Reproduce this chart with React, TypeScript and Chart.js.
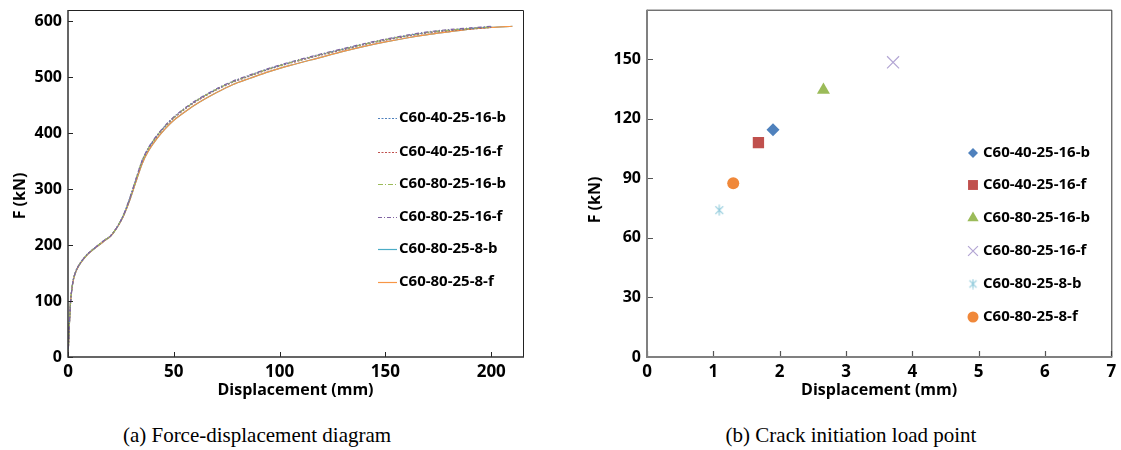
import React, { useEffect, useRef } from 'react';
import { Chart, registerables } from 'chart.js';
import { drawPoint } from 'chart.js/helpers';

Chart.register(...registerables);

// ---------- (a) Force-displacement data ----------
const seriesNames = [
  'C60-40-25-16-b',
  'C60-40-25-16-f',
  'C60-80-25-16-b',
  'C60-80-25-16-f',
  'C60-80-25-8-b',
  'C60-80-25-8-f',
];

const dispGroup16 = [0, 0.4, 1, 1.5, 2.5, 4, 6, 9, 12, 15, 17, 20, 23, 26, 29, 32, 35, 38, 42, 46, 50, 56, 62, 70, 78, 86, 95, 105, 119, 130, 140, 150, 160, 170, 180, 190, 200];
const forceB40 = [0, 36, 86, 111, 138, 156, 169, 183, 193, 202, 208, 216, 231, 252, 281, 316, 350, 373, 395, 413, 428, 446, 461, 478, 492, 503, 515, 526, 540, 550, 559, 567, 574, 580, 584, 587, 590];
const forceF40 = [0, 36, 86, 111, 138, 156, 169, 183, 193, 202, 208, 216, 231, 251, 280, 315, 349, 372, 394, 412, 427, 445, 460, 477, 491, 502, 514, 525, 539, 549, 558, 566, 573, 579, 583, 586, 589];
const forceB80 = [0, 36, 86, 111, 138, 156, 169, 183, 193, 202, 208, 216, 231, 252, 281, 316, 350, 373, 395, 413, 428, 446, 461, 478, 492, 503, 515, 526, 540, 550, 559, 567, 574, 580, 584, 587, 590];
const forceF80 = [0, 36, 86, 111, 138, 156, 169, 183, 193, 202, 208, 216, 231, 252, 282, 317, 351, 374, 396, 414, 429, 447, 462, 479, 493, 504, 516, 527, 541, 551, 560, 568, 575, 581, 585, 588, 591];

const dispGroup8 = [0, 0.4, 1, 1.5, 2.5, 4, 6, 9, 12, 15, 17, 20, 23, 26, 29, 32, 35, 38, 42, 46, 50, 56, 62, 70, 78, 86, 95, 105, 119, 130, 140, 150, 160, 170, 180, 190, 200, 210];
const forceB8 = [0, 36, 85, 110, 137, 155, 168, 182, 192, 201, 207, 215, 230, 250, 278, 312, 345, 368, 390, 408, 423, 440, 455, 472, 487, 498, 510, 521, 535, 546, 555, 563, 570, 576, 581, 586, 589, 591];
const forceF8 = [0, 36, 85, 110, 137, 155, 168, 182, 192, 201, 207, 215, 230, 250, 278, 312, 345, 368, 390, 408, 423, 440, 455, 472, 487, 498, 510, 521, 535, 546, 555, 563, 570, 576, 581, 586, 589, 591];

const forceXTicks = [0, 50, 100, 150, 200];
const forceYTicks = [0, 100, 200, 300, 400, 500, 600];

// ---------- (b) Crack initiation data ----------
const crackDisp = [1.9, 1.68, 2.66, 3.71, 1.09, 1.3];
const crackLoad = [114.5, 108, 134.5, 148.5, 74, 87.5];
const crackXTicks = [0, 1, 2, 3, 4, 5, 6, 7];
const crackYTicks = [0, 30, 60, 90, 120, 150];

const FONT = "'Open Sans', 'DejaVu Sans', sans-serif";

function makeAsterisk(size: number, color: string) {
  const c = document.createElement('canvas');
  c.width = size;
  c.height = size;
  const g = c.getContext('2d')!;
  g.strokeStyle = color;
  g.lineWidth = 1.1;
  const cx = size / 2;
  const cy = size / 2;
  const r = size / 2 - 0.5;
  g.beginPath();
  for (const deg of [90, 45, 135]) {
    const a = (deg * Math.PI) / 180;
    g.moveTo(cx - r * Math.cos(a), cy - r * Math.sin(a));
    g.lineTo(cx + r * Math.cos(a), cy + r * Math.sin(a));
  }
  g.stroke();
  return c;
}

const decorPlugin = {
  id: 'decor',
  afterDraw(chart: any) {
    const o = chart.options.plugins.decor;
    if (!o) return;
    const { ctx, chartArea: a } = chart;
    const xs = chart.scales.x;
    const ys = chart.scales.y;
    ctx.save();
    // inward tick marks
    ctx.strokeStyle = o.tickColor;
    ctx.lineWidth = o.tickWidth;
    ctx.beginPath();
    xs.ticks.forEach((t: any) => {
      const p = Math.round(xs.getPixelForValue(t.value)) + 0.5;
      ctx.moveTo(p, a.bottom);
      ctx.lineTo(p, a.bottom - o.tickLen);
    });
    ys.ticks.forEach((t: any) => {
      const p = Math.round(ys.getPixelForValue(t.value)) + 0.5;
      ctx.moveTo(a.left, p);
      ctx.lineTo(a.left + o.tickLen, p);
    });
    ctx.stroke();
    // frame top/right
    ctx.strokeStyle = o.frameColor;
    ctx.lineWidth = o.frameWidth;
    ctx.beginPath();
    ctx.moveTo(a.left, a.top + 0.5);
    ctx.lineTo(a.right + 0.5, a.top + 0.5);
    ctx.lineTo(a.right + 0.5, a.bottom);
    ctx.stroke();
    // axes left/bottom
    ctx.strokeStyle = o.axisColor;
    ctx.lineWidth = o.axisWidth;
    ctx.beginPath();
    ctx.moveTo(a.left, a.top);
    ctx.lineTo(a.left, a.bottom);
    ctx.lineTo(a.right + 1, a.bottom);
    ctx.stroke();
    // axis titles
    ctx.fillStyle = '#000';
    ctx.font = o.titleFont;
    ctx.textAlign = 'center';
    ctx.textBaseline = 'middle';
    ctx.fillText(o.xTitle, (a.left + a.right) / 2, o.xTitleY);
    ctx.save();
    ctx.translate(o.yTitleX, o.yTitleY);
    ctx.rotate(-Math.PI / 2);
    ctx.fillText(o.yTitle, 0, 0);
    ctx.restore();
    // legend
    chart.data.datasets.forEach((ds: any, i: number) => {
      const y = o.legendY[i];
      if (o.legendType === 'line') {
        ctx.strokeStyle = ds.borderColor;
        ctx.lineWidth = ds.borderWidth;
        ctx.setLineDash(ds.borderDash || []);
        ctx.beginPath();
        ctx.moveTo(o.legendLineX[0], y + 0.5);
        ctx.lineTo(o.legendLineX[1], y + 0.5);
        ctx.stroke();
        ctx.setLineDash([]);
      } else {
        ctx.fillStyle = ds.backgroundColor;
        ctx.strokeStyle = ds.borderColor;
        ctx.lineWidth = ds.pointBorderWidth;
        drawPoint(
          ctx,
          { pointStyle: o.legendStyles ? o.legendStyles[i] : ds.pointStyle, radius: o.legendRadius[i], rotation: 0, borderWidth: ds.pointBorderWidth },
          o.legendMarkerX,
          y
        );
      }
      ctx.fillStyle = '#000';
      ctx.font = o.legendFont;
      ctx.textAlign = 'left';
      ctx.textBaseline = 'middle';
      ctx.fillText(ds.label, o.legendTextX, y);
    });
    ctx.restore();
  },
};

function tickFont(size: number) {
  return { family: FONT, size, weight: 'bold' as const };
}

function fitX(h: number) {
  return (s: any) => {
    s.height = h;
    s.paddingLeft = 0;
    s.paddingRight = 0;
  };
}
function fitY(w: number) {
  return (s: any) => {
    s.width = w;
    s.paddingTop = 0;
    s.paddingBottom = 0;
  };
}

function ForceChart() {
  const ref = useRef<HTMLCanvasElement | null>(null);
  useEffect(() => {
    if (!ref.current) return;
    const mk = (xs: number[], ys: number[]) => xs.map((x, i) => ({ x, y: ys[i] }));
    const colors = ['#4F81BD', '#C0504D', '#9BBB59', '#8064A2', '#4BACC6', '#F79646'];
    const dashes = [[2, 1.5], [2, 1.5], [5, 2, 1, 2], [4, 2, 1, 2], [], []];
    const dataSets = [
      mk(dispGroup16, forceB40),
      mk(dispGroup16, forceF40),
      mk(dispGroup16, forceB80),
      mk(dispGroup16, forceF80),
      mk(dispGroup8, forceB8),
      mk(dispGroup8, forceF8),
    ];
    const orders = [3, 4, 2, 1, 6, 5];
    const chart = new Chart(ref.current, {
      type: 'scatter',
      data: {
        datasets: seriesNames.map((name, i) => ({
          label: name,
          data: dataSets[i],
          showLine: true,
          borderColor: colors[i],
          backgroundColor: colors[i],
          borderWidth: 1.2,
          borderDash: dashes[i],
          pointRadius: 0,
          tension: 0.3,
          order: orders[i],
        })),
      },
      options: {
        animation: false,
        responsive: false,
        devicePixelRatio: 1,
        events: [],
        layout: { padding: { left: 0, top: 10, right: 22, bottom: 0 } },
        scales: {
          x: {
            type: 'linear',
            min: 0,
            max: 215,
            grid: { display: false, drawTicks: false },
            border: { display: false },
            afterFit: fitX(53),
            afterBuildTicks: (s: any) => { s.ticks = forceXTicks.map((v) => ({ value: v })); },
            ticks: { font: tickFont(17), color: '#000', padding: 5, maxRotation: 0 },
          },
          y: {
            type: 'linear',
            min: 0,
            max: 620,
            grid: { display: false, drawTicks: false },
            border: { display: false },
            afterFit: fitY(68),
            afterBuildTicks: (s: any) => { s.ticks = forceYTicks.map((v) => ({ value: v })); },
            ticks: { font: tickFont(16), color: '#000', padding: 6 },
          },
        },
        plugins: {
          legend: { display: false },
          tooltip: { enabled: false },
          decor: {
            tickColor: '#222',
            tickWidth: 1,
            tickLen: 5,
            frameColor: '#222',
            frameWidth: 1,
            axisColor: '#333',
            axisWidth: 1.5,
            titleFont: `bold 16px ${FONT}`,
            xTitle: 'Displacement (mm)',
            xTitleY: 390,
            yTitle: 'F (kN)',
            yTitleX: 20,
            yTitleY: 196,
            legendType: 'line',
            legendY: [118, 152, 184, 217, 249, 282],
            legendLineX: [378, 397],
            legendTextX: 399,
            legendFont: `bold 15px ${FONT}`,
          },
        } as any,
      },
      plugins: [decorPlugin],
    });
    return () => chart.destroy();
  }, []);
  return <canvas ref={ref} width={545} height={410} style={{ display: 'block', width: 545, height: 410 }} />;
}

function CrackChart() {
  const ref = useRef<HTMLCanvasElement | null>(null);
  useEffect(() => {
    if (!ref.current) return;
    const asterisk = makeAsterisk(12, '#8FCADB');
    const asteriskSmall = makeAsterisk(11, '#8FCADB');
    const styles: any[] = ['rectRot', 'rect', 'triangle', 'crossRot', asterisk, 'circle'];
    const legendStyles: any[] = ['rectRot', 'rect', 'triangle', 'crossRot', asteriskSmall, 'circle'];
    const fills = ['#4F81BD', '#C0504D', '#9BBB59', '#B3A6D4', '#8FCADB', '#F0883A'];
    const radii = [6.5, 8, 7.5, 8.5, 6, 6];
    const chart = new Chart(ref.current, {
      type: 'scatter',
      data: {
        datasets: seriesNames.map((name, i) => ({
          label: name,
          data: [{ x: crackDisp[i], y: crackLoad[i] }],
          pointStyle: styles[i],
          pointRadius: radii[i],
          backgroundColor: fills[i],
          borderColor: fills[i],
          pointBorderWidth: i === 3 ? 1.2 : 0,
        })),
      },
      options: {
        animation: false,
        responsive: false,
        devicePixelRatio: 1,
        events: [],
        layout: { padding: { left: 0, top: 9, right: 9, bottom: 0 } },
        scales: {
          x: {
            type: 'linear',
            min: 0,
            max: 7,
            grid: { display: false, drawTicks: false },
            border: { display: false },
            afterFit: fitX(53),
            afterBuildTicks: (s: any) => { s.ticks = crackXTicks.map((v) => ({ value: v })); },
            ticks: { font: tickFont(17), color: '#000', padding: 5, maxRotation: 0 },
          },
          y: {
            type: 'linear',
            min: 0,
            max: 175,
            grid: { display: false, drawTicks: false },
            border: { display: false },
            afterFit: fitY(67),
            afterBuildTicks: (s: any) => { s.ticks = crackYTicks.map((v) => ({ value: v })); },
            ticks: { font: tickFont(16), color: '#000', padding: 6 },
          },
        },
        plugins: {
          legend: { display: false },
          tooltip: { enabled: false },
          decor: {
            tickColor: '#555',
            tickWidth: 1.2,
            tickLen: 6,
            frameColor: '#333',
            frameWidth: 1,
            axisColor: '#808080',
            axisWidth: 2,
            titleFont: `bold 16px ${FONT}`,
            xTitle: 'Displacement (mm)',
            xTitleY: 390,
            yTitle: 'F (kN)',
            yTitleX: 15,
            yTitleY: 200,
            legendType: 'point',
            legendY: [153, 185, 218, 251, 284, 317],
            legendMarkerX: 393,
            legendTextX: 403,
            legendRadius: [5, 7, 6.5, 7, 5, 5.5],
            legendStyles,
            legendFont: `bold 15px ${FONT}`,
          },
        } as any,
      },
      plugins: [decorPlugin],
    });
    return () => chart.destroy();
  }, []);
  return <canvas ref={ref} width={541} height={410} style={{ display: 'block', width: 541, height: 410 }} />;
}

const captionStyle: React.CSSProperties = {
  position: 'absolute',
  top: 423,
  width: 420,
  textAlign: 'center',
  fontFamily: "'Liberation Serif', 'Times New Roman', serif",
  fontSize: 21,
  lineHeight: '24px',
  color: '#000',
  whiteSpace: 'nowrap',
};

export default function App() {
  return (
    <div style={{ position: 'fixed', left: 0, top: 0, width: 1121, height: 450, background: '#fff', overflow: 'hidden' }}>
      <div style={{ position: 'absolute', left: 0, top: 0 }}>
        <ForceChart />
      </div>
      <div style={{ position: 'absolute', left: 580, top: 0 }}>
        <CrackChart />
      </div>
      <div style={{ ...captionStyle, left: 257 - 210 }}>(a) Force-displacement diagram</div>
      <div style={{ ...captionStyle, left: 851 - 210 }}>(b) Crack initiation load point</div>
    </div>
  );
}
